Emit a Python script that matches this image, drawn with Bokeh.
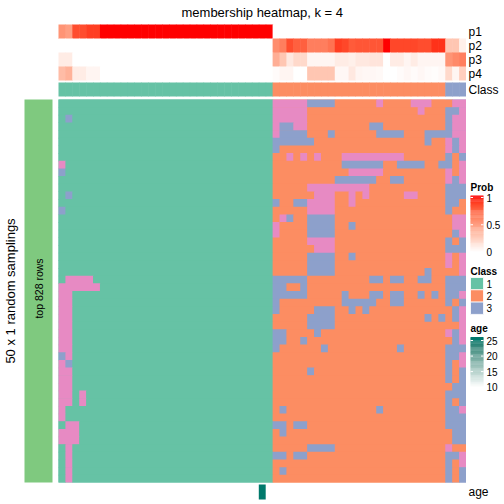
import math
from bokeh.plotting import figure
from bokeh.models import Range1d
from bokeh.core.properties import value
from bokeh.embed import file_html
from bokeh.resources import INLINE

# ---------------- data ----------------
chart_title = "membership heatmap, k = 4"
row_title = "50 x 1 random samplings"
row_slice_label = "top 828 rows"
prob_names = ["p1", "p2", "p3", "p4"]
class_name = "Class"
age_name = "age"

class_levels = ["1", "2", "3"]
class_palette = {"1": "#66C2A5", "2": "#FC8D62", "3": "#8DA0CB", "4": "#E78AC3"}
row_slice_color = "#7FC97F"

# class of each column (31 x class 1, 25 x class 2, 3 x class 3)
column_class_text = "1111111111 1111111111 1111111111 1 | 22222 22222 22222 22222 22222 | 333"

# membership of each sampling (row) for every column
membership_text = [
    "1111111111 1111111111 1111111111 1 | 44444 33332 22222 42222 44422 | 244",
    "1111111111 1111111111 1111111111 1 | 44444 22222 22222 22222 24222 | 334",
    "1311111111 1111111111 1111111111 1 | 44444 22222 22222 22222 22222 | 344",
    "1111111111 1111111111 1111111111 1 | 43344 22222 22223 32222 22222 | 344",
    "1111111111 1111111111 1111111111 1 | 43333 22232 22222 33332 22333 | 344",
    "1111111111 1111111111 1111111111 1 | 33333 32222 22222 22222 22322 | 434",
    "1111111111 1111111111 1111111111 1 | 32222 22222 22222 22222 22222 | 434",
    "1111111111 1111111111 1111111111 1 | 22424 24222 44444 44442 22222 | 323",
    "4111111111 1111111111 1111111111 1 | 22222 22222 33333 32233 33223 | 324",
    "3111111111 1111111111 1111111111 1 | 22222 22222 24444 42222 22222 | 424",
    "1111111111 1111111111 1111111111 1 | 22222 22223 33333 22332 22222 | 434",
    "1111111111 1111111111 1111111111 1 | 22222 44444 44442 22222 22222 | 333",
    "1311111111 1111111111 1111111111 1 | 22222 24442 24242 22224 42222 | 333",
    "1111111111 1111111111 1111111111 1 | 32233 44442 24222 22222 22222 | 332",
    "3111111111 1111111111 1111111111 1 | 22222 44442 22222 22222 22222 | 322",
    "1111111111 1111111111 1111111111 1 | 24322 33332 22222 22222 22222 | 244",
    "1111111111 1111111111 1111111111 1 | 42222 33332 23222 22222 22222 | 244",
    "1111111111 1111111111 1111111111 1 | 42222 33332 22222 22222 22222 | 234",
    "1111111111 1111111111 1111111111 1 | 22222 44442 22222 22222 22222 | 323",
    "1111111111 1111111111 1111111111 1 | 22222 24442 22222 22222 22222 | 333",
    "1111111111 1111111111 1111111111 1 | 22222 33332 23222 22222 22222 | 424",
    "1111111111 1111111111 1111111111 1 | 22222 33332 22222 22222 22222 | 424",
    "1111111111 1111111111 1111111111 1 | 22222 33332 22222 22222 22322 | 224",
    "1444411111 1111111111 1111111111 1 | 33333 22222 22223 32332 23322 | 333",
    "4444441111 1111111111 1111111111 1 | 33223 22222 22222 22222 22222 | 333",
    "4411111111 1111111111 1111111111 1 | 33333 22222 32223 32332 23232 | 334",
    "4411111111 1111111111 1111111111 1 | 32222 22222 33333 22332 22222 | 323",
    "4411111111 1111111111 1111111111 1 | 32222 23332 23232 22222 22222 | 234",
    "4411111111 1111111111 1111111111 1 | 22222 33332 22222 22222 22323 | 234",
    "4411111111 1111111111 1111111111 1 | 22222 33332 22222 22222 22222 | 224",
    "4411111111 1111111111 1111111111 1 | 33222 23222 22222 22222 22222 | 434",
    "4411111111 1111111111 1111111111 1 | 33223 22222 22222 22222 22222 | 234",
    "4411111111 1111111111 1111111111 1 | 32222 22322 22222 22232 22222 | 333",
    "3411111111 1111111111 1111111111 1 | 22222 22222 22222 22222 22222 | 334",
    "4311111111 1111111111 1111111111 1 | 22222 22222 22222 22222 22222 | 324",
    "4411111111 1111111111 1111111111 1 | 22222 32222 22222 22222 22222 | 323",
    "4411111111 1111111111 1111111111 1 | 22222 22222 22222 22222 22222 | 323",
    "4411111111 1111111111 1111111111 1 | 22222 22222 22222 22222 22222 | 233",
    "4414111111 1111111111 1111111111 1 | 22222 22222 22222 22222 22222 | 333",
    "4414111111 1111111111 1111111111 1 | 22222 22222 22222 22222 22222 | 323",
    "4111111111 1111111111 1111111111 1 | 23222 22222 22222 32222 22222 | 334",
    "4111111111 1111111111 1111111111 1 | 22222 22222 22222 22222 22222 | 333",
    "1441111111 1111111111 1111111111 1 | 33233 22222 22222 22222 22222 | 333",
    "4441111111 1111111111 1111111111 1 | 23222 22222 22222 22222 22222 | 233",
    "4441111111 1111111111 1111111111 1 | 22222 22222 22222 22222 22222 | 233",
    "1411111111 1111111111 1111111111 1 | 22222 33332 22222 22222 22222 | 422",
    "1411111111 1111111111 1111111111 1 | 33233 22222 22222 22222 22222 | 334",
    "1411111111 1111111111 1111111111 1 | 22222 22222 22222 22222 22222 | 324",
    "1411111111 1111111111 1111111111 1 | 23222 22222 22222 22222 22222 | 323",
    "1411111111 1111111111 1111111111 1 | 22222 22222 22222 22222 22222 | 323",
]

# membership probabilities per column
p1_values = [0.55, 0.50, 0.85, 0.85, 0.90, 0.90, 1.00, 1.00, 1.00, 1.00,
             1.00, 1.00, 1.00, 1.00, 1.00, 1.00, 1.00, 1.00, 1.00, 1.00,
             1.00, 1.00, 1.00, 1.00, 1.00, 1.00, 1.00, 1.00, 1.00, 1.00,
             1.00,
             0.00, 0.00, 0.00, 0.00, 0.00, 0.00, 0.00, 0.00, 0.00, 0.00,
             0.00, 0.00, 0.00, 0.00, 0.00, 0.00, 0.00, 0.00, 0.00, 0.00,
             0.00, 0.00, 0.00, 0.00, 0.00,
             0.00, 0.00, 0.00]
p2_values = [0.00, 0.00, 0.00, 0.00, 0.00, 0.00, 0.00, 0.00, 0.00, 0.00,
             0.00, 0.00, 0.00, 0.00, 0.00, 0.00, 0.00, 0.00, 0.00, 0.00,
             0.00, 0.00, 0.00, 0.00, 0.00, 0.00, 0.00, 0.00, 0.00, 0.00,
             0.00,
             0.58, 0.65, 0.85, 0.78, 0.78, 0.65, 0.65, 0.65, 0.70, 0.90,
             0.87, 0.80, 0.82, 0.82, 0.82, 0.82, 1.00, 0.87, 0.87, 0.87,
             0.87, 0.85, 0.85, 0.93, 0.93,
             0.30, 0.30, 0.08]
p3_values = [0.10, 0.10, 0.00, 0.00, 0.00, 0.00, 0.00, 0.00, 0.00, 0.00,
             0.00, 0.00, 0.00, 0.00, 0.00, 0.00, 0.00, 0.00, 0.00, 0.00,
             0.00, 0.00, 0.00, 0.00, 0.00, 0.00, 0.00, 0.00, 0.00, 0.00,
             0.00,
             0.42, 0.30, 0.12, 0.20, 0.20, 0.05, 0.05, 0.05, 0.05, 0.10,
             0.10, 0.08, 0.12, 0.12, 0.14, 0.14, 0.00, 0.10, 0.10, 0.05,
             0.10, 0.05, 0.05, 0.05, 0.05,
             0.55, 0.60, 0.65]
p4_values = [0.35, 0.40, 0.10, 0.10, 0.05, 0.05, 0.00, 0.00, 0.00, 0.00,
             0.00, 0.00, 0.00, 0.00, 0.00, 0.00, 0.00, 0.00, 0.00, 0.00,
             0.00, 0.00, 0.00, 0.00, 0.00, 0.00, 0.00, 0.00, 0.00, 0.00,
             0.00,
             0.02, 0.05, 0.05, 0.00, 0.00, 0.30, 0.30, 0.30, 0.30, 0.04,
             0.04, 0.12, 0.05, 0.04, 0.04, 0.03, 0.00, 0.00, 0.02, 0.04,
             0.02, 0.04, 0.02, 0.01, 0.03,
             0.20, 0.05, 0.25]
# age annotation (only one known value, others NA)
age_values = [None, None, None, None, None, None, None, None, None, None,
              None, None, None, None, None, None, None, None, None, None,
              None, None, None, None, None, None, None, None, None, 25,
              None,
              None, None, None, None, None, None, None, None, None, None,
              None, None, None, None, None, None, None, None, None, None,
              None, None, None, None, None,
              None, None, None]
prob_ticks = [0, 0.5, 1]
prob_tick_labels = ["0", "0.5", "1"]
age_ticks = [10, 15, 20, 25]
age_tick_labels = ["10", "15", "20", "25"]

# ---------------- colour helpers (LAB interpolation like colorRamp2) ----------------
def _s2l(c):
    return c / 12.92 if c <= 0.04045 else ((c + 0.055) / 1.055) ** 2.4

def _l2s(c):
    c = max(0.0, min(1.0, c))
    return 12.92 * c if c <= 0.0031308 else 1.055 * c ** (1 / 2.4) - 0.055

def hex_to_lab(h):
    r, g, b = [_s2l(int(h[i:i + 2], 16) / 255.0) for i in (1, 3, 5)]
    x = 0.4124564 * r + 0.3575761 * g + 0.1804375 * b
    y = 0.2126729 * r + 0.7151522 * g + 0.0721750 * b
    z = 0.0193339 * r + 0.1191920 * g + 0.9503041 * b
    def f(t):
        return t ** (1 / 3) if t > 0.008856 else 7.787 * t + 16 / 116
    fx, fy, fz = f(x / 0.95047), f(y), f(z / 1.08883)
    return (116 * fy - 16, 500 * (fx - fy), 200 * (fy - fz))

def lab_to_hex(L, a, b):
    fy = (L + 16) / 116
    fx = fy + a / 500
    fz = fy - b / 200
    def finv(t):
        return t ** 3 if t ** 3 > 0.008856 else (t - 16 / 116) / 7.787
    x, y, z = finv(fx) * 0.95047, finv(fy), finv(fz) * 1.08883
    r = 3.2404542 * x - 1.5371385 * y - 0.4985314 * z
    g = -0.9692660 * x + 1.8760108 * y + 0.0415560 * z
    bb = 0.0556434 * x - 0.2040259 * y + 1.0572252 * z
    return "#%02x%02x%02x" % tuple(int(round(_l2s(c) * 255)) for c in (r, g, bb))

def ramp(lo, hi, vmin, vmax):
    A, B = hex_to_lab(lo), hex_to_lab(hi)
    def f(v):
        t = max(0.0, min(1.0, (v - vmin) / (vmax - vmin)))
        return lab_to_hex(*[A[i] + (B[i] - A[i]) * t for i in range(3)])
    return f

prob_color = ramp("#FFFFFF", "#FF0000", 0, 1)
age_color = ramp("#FFFFFF", "#00796B", 10, 25)

# ---------------- parse ----------------
def parse(s):
    return s.replace(" ", "").replace("|", "")

column_class = parse(column_class_text)
membership_rows = [parse(r) for r in membership_text]
ncol = len(column_class)
nrow = len(membership_rows)
for r in membership_rows:
    assert len(r) == ncol, (len(r), r)

# ---------------- layout (screen px) ----------------
W = H = 502
OFF = 0
HX0, HX1, HY0, HY1 = 58.0, 465.5, 99.0, 482.0
cw = (HX1 - HX0) / ncol
rh = (HY1 - HY0) / nrow
FONT = value("Liberation Sans")
OV = 0.08  # small overlap (cell units) to hide anti-aliasing seams

p = figure(width=W, height=H, output_backend="svg", toolbar_location=None,
           x_range=Range1d((OFF - HX0) / cw, (OFF + W - HX0) / cw),
           y_range=Range1d((OFF + H - HY0) / rh, (OFF - HY0) / rh),
           x_axis_location=None, y_axis_location=None, min_border=0,
           outline_line_color=None, background_fill_color="white",
           border_fill_color="white")
p.extra_x_ranges = {"px": Range1d(OFF, OFF + W)}
p.extra_y_ranges = {"px": Range1d(OFF + H, OFF)}
p.grid.visible = False

# background per column-class block (hides seams between cells of the dominant colour)
bl, br, bc = [], [], []
j = 0
while j < ncol:
    k = j
    while k + 1 < ncol and column_class[k + 1] == column_class[j]:
        k += 1
    bl.append(j); br.append(k + 1); bc.append(class_palette[column_class[j]])
    j = k + 1
p.quad(left=bl, right=br, top=[0] * len(bl), bottom=[nrow] * len(bl),
       fill_color=bc, line_color=None)

# main heatmap (runs of equal class merged per row)
L, R, T, B, C = [], [], [], [], []
for i, row in enumerate(membership_rows):
    j = 0
    while j < ncol:
        k = j
        while k + 1 < ncol and row[k + 1] == row[j]:
            k += 1
        L.append(j)
        R.append(min(k + 1 + OV, ncol))
        T.append(i)
        B.append(min(i + 1 + OV, nrow))
        C.append(class_palette[row[j]])
        j = k + 1
p.quad(left=L, right=R, top=T, bottom=B, fill_color=C, line_color=None)

cols_left = list(range(ncol))
cols_right = [min(j + 1 + OV, ncol) for j in range(ncol)]

# probability tracks
tracks = [(p1_values, 24, 38), (p2_values, 38, 52), (p3_values, 52, 66), (p4_values, 66, 80)]
for (vals, y0, y1), name in zip(tracks, prob_names):
    cc = [prob_color(v) for v in vals]
    bottom = y1 + 0.5 if y1 < 80 else y1
    p.quad(left=cols_left, right=cols_right, top=[y0] * ncol, bottom=[bottom] * ncol,
           fill_color=cc, line_color=None, y_range_name="px")
    p.text(x=[468], y=[(y0 + y1) / 2], text=[name], x_range_name="px", y_range_name="px",
           text_font=FONT, text_font_size="12px", text_baseline="middle", text_align="left",
           text_color="black")

# class track
cc = [class_palette[c] for c in column_class]
p.quad(left=cols_left, right=cols_right, top=[82] * ncol, bottom=[96] * ncol,
       fill_color=cc, line_color=None, y_range_name="px")
p.text(x=[468], y=[89], text=[class_name], x_range_name="px", y_range_name="px",
       text_font=FONT, text_font_size="12px", text_baseline="middle", text_align="left")

# age track
al, ar, ac = [], [], []
for j, v in enumerate(age_values):
    if v is not None:
        al.append(j); ar.append(j + 1); ac.append(age_color(v))
p.quad(left=al, right=ar, top=[484] * len(al), bottom=[499] * len(al),
       fill_color=ac, line_color=None, y_range_name="px")
p.text(x=[468], y=[491.5], text=[age_name], x_range_name="px", y_range_name="px",
       text_font=FONT, text_font_size="12px", text_baseline="middle", text_align="left")

# title
p.text(x=[(HX0 + HX1) / 2], y=[12], text=[chart_title], x_range_name="px", y_range_name="px",
       text_font=FONT, text_font_size="13px", text_baseline="middle", text_align="center")

# row slice bar and titles
p.quad(left=[24], right=[52], top=[HY0], bottom=[HY1], fill_color=row_slice_color,
       line_color=None, x_range_name="px", y_range_name="px")
p.text(x=[38.5], y=[288], text=[row_slice_label], angle=math.pi / 2,
       x_range_name="px", y_range_name="px", text_font=FONT, text_font_size="10.5px",
       text_baseline="middle", text_align="center")
p.text(x=[10], y=[(HY0 + HY1) / 2], text=[row_title], angle=math.pi / 2,
       x_range_name="px", y_range_name="px", text_font=FONT, text_font_size="13px",
       text_baseline="middle", text_align="center")

# ---------------- legends ----------------
LX0, LX1, LTX = 470, 483, 486

def legend_text(x, y, t, bold=False):
    p.text(x=[x], y=[y], text=[t], x_range_name="px", y_range_name="px", text_font=FONT,
           text_font_size="10px", text_baseline="middle", text_align="left",
           text_font_style="bold" if bold else "normal")

def gradient(top, bottom, yfun_inv, colfun, n=60):
    h = (bottom - top) / n
    tops = [top + s * h for s in range(n)]
    bots = [t + h + 0.3 for t in tops]
    cols = [colfun(yfun_inv(t + h / 2)) for t in tops]
    p.quad(left=[LX0] * n, right=[LX1] * n, top=tops, bottom=bots, fill_color=cols,
           line_color=None, x_range_name="px", y_range_name="px")

# Prob
legend_text(LX0, 187, "Prob", bold=True)
prob_y = lambda v: 251.5 - 54.5 * v
gradient(195, 251.5, lambda y: (251.5 - y) / 54.5, prob_color)
for v, lab in zip(prob_ticks, prob_tick_labels):
    legend_text(LTX, prob_y(v), lab)
p.segment(x0=[LX0] * 3 + [LX1 - 2.5] * 3, x1=[LX0 + 2.5] * 3 + [LX1] * 3,
          y0=[prob_y(v) for v in prob_ticks] * 2, y1=[prob_y(v) for v in prob_ticks] * 2,
          line_color="white", line_width=1, x_range_name="px", y_range_name="px")

# Class
legend_text(LX0, 271, class_name, bold=True)
sw_h = 12.3
for i, c in enumerate(class_levels):
    t = 277 + i * sw_h
    p.quad(left=[LX0], right=[LX1], top=[t], bottom=[t + sw_h], fill_color=class_palette[c],
           line_color="white", line_width=0.8, x_range_name="px", y_range_name="px")
    legend_text(LTX, t + sw_h / 2, c)

# age
legend_text(LX0, 328, age_name, bold=True)
age_y = lambda v: 340 + (25 - v) * 46.7 / 15
gradient(336.5, 389, lambda y: 25 - (y - 340) * 15 / 46.7, age_color)
for v, lab in zip(age_ticks, age_tick_labels):
    legend_text(LTX, age_y(v), lab)
p.segment(x0=[LX0] * 4 + [LX1 - 2.5] * 4, x1=[LX0 + 2.5] * 4 + [LX1] * 4,
          y0=[age_y(v) for v in age_ticks] * 2, y1=[age_y(v) for v in age_ticks] * 2,
          line_color="white", line_width=1, x_range_name="px", y_range_name="px")

open("out.html", "w").write(file_html(p, INLINE))
